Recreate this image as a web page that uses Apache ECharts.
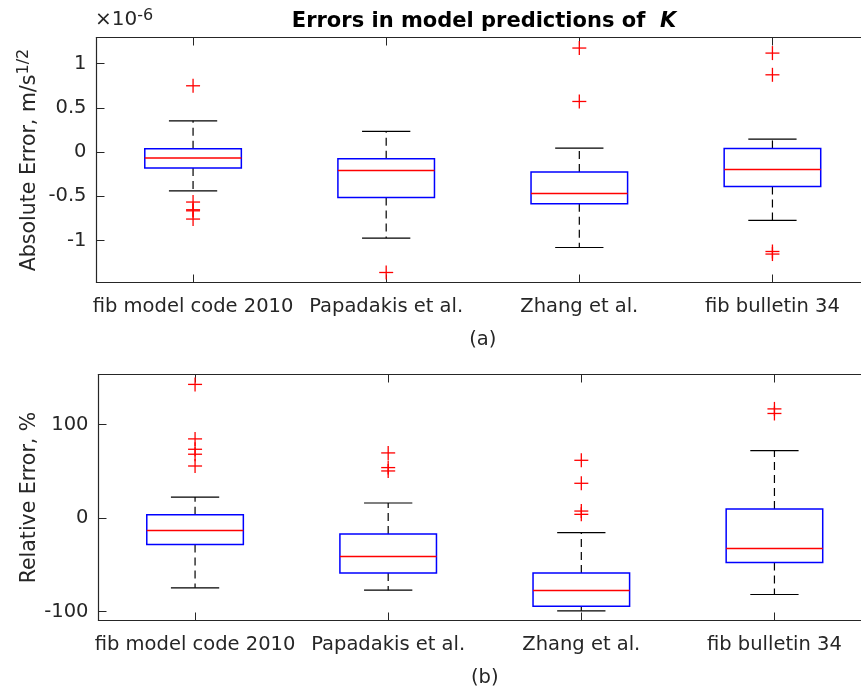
<!DOCTYPE html>
<html>
<head>
<meta charset="utf-8">
<script src="https://cdn.jsdelivr.net/npm/echarts@6.0.0/dist/echarts.min.js"></script>
<style>
  html, body { margin: 0; padding: 0; background: #fff; overflow: hidden; }
  /* the plot boxes run slightly past the right edge of the window */
  #chart { width: 880px; height: 692px; }
</style>
</head>
<body>
<div id="chart"></div>
<script>
// Model names shared by both panels
const categories = ['fib model code 2010', 'Papadakis et al.', 'Zhang et al.', 'fib bulletin 34'];

// Absolute error (units of 1e-6 m/s^1/2): [lower whisker, Q1, median, Q3, upper whisker]
const absBoxStats = [
  [-0.437, -0.181, -0.068, 0.037, 0.353],
  [-0.971, -0.512, -0.208, -0.076, 0.233],
  [-1.077, -0.584, -0.467, -0.226, 0.045],
  [-0.772, -0.388, -0.196, 0.041, 0.147]
];
// Absolute error outliers: [model index, value]
const absOutliers = [
  [0, 0.748], [0, -0.564], [0, -0.651], [0, -0.663], [0, -0.756],
  [1, -1.359],
  [2, 1.174], [2, 0.571],
  [3, 1.117], [3, 0.872], [3, -1.122], [3, -1.151]
];

// Relative error (%): [lower whisker, Q1, median, Q3, upper whisker]
const relBoxStats = [
  [-74.6, -28.2, -13.2, 3.6, 22.5],
  [-77.2, -58.9, -41.0, -17.1, 16.1],
  [-99.2, -94.3, -77.5, -58.9, -15.6],
  [-81.8, -47.5, -32.5, 9.6, 72.2]
];
// Relative error outliers: [model index, value]
const relOutliers = [
  [0, 143.0], [0, 84.7], [0, 73.6], [0, 68.3], [0, 55.7],
  [1, 69.7], [1, 54.0], [1, 50.4],
  [2, 61.8], [2, 37.2], [2, 7.5], [2, 4.0],
  [3, 116.8], [3, 111.9]
];

// Axis limits and tick labels
const absRange = [-1.472, 1.293];
const absTicks = [-1, -0.5, 0, 0.5, 1];
const relRange = [-109.6, 153.6];
const relTicks = [-100, 0, 100];

const AXIS = '#262626';
const FONT = '"DejaVu Sans", "Liberation Sans", Arial, sans-serif';
const FS = 19.5;

function renderBox(params, api) {
  const i = api.value(0);
  const band = api.size([1, 0])[0];
  const boxHalf = band * 0.25;
  const capHalf = band * 0.125;
  const pLow = api.coord([i, api.value(1)]);
  const pQ1 = api.coord([i, api.value(2)]);
  const pMed = api.coord([i, api.value(3)]);
  const pQ3 = api.coord([i, api.value(4)]);
  const pHigh = api.coord([i, api.value(5)]);
  const cx = pMed[0];
  const whisker = { stroke: '#000', lineWidth: 1.2, lineDash: [8, 5] };
  const cap = { stroke: '#000', lineWidth: 1.2 };
  return {
    type: 'group',
    children: [
      { type: 'line', shape: { x1: cx, y1: pQ3[1], x2: cx, y2: pHigh[1] }, style: whisker },
      { type: 'line', shape: { x1: cx, y1: pQ1[1], x2: cx, y2: pLow[1] }, style: whisker },
      { type: 'line', shape: { x1: cx - capHalf, y1: pHigh[1], x2: cx + capHalf, y2: pHigh[1] }, style: cap },
      { type: 'line', shape: { x1: cx - capHalf, y1: pLow[1], x2: cx + capHalf, y2: pLow[1] }, style: cap },
      { type: 'rect', shape: { x: cx - boxHalf, y: pQ3[1], width: boxHalf * 2, height: pQ1[1] - pQ3[1] },
        style: { fill: 'none', stroke: '#0000ff', lineWidth: 1.5 } },
      { type: 'line', shape: { x1: cx - boxHalf, y1: pMed[1], x2: cx + boxHalf, y2: pMed[1] },
        style: { stroke: '#ff0000', lineWidth: 1.5 } }
    ]
  };
}

function renderPlus(params, api) {
  const p = api.coord([api.value(0), api.value(1)]);
  const h = 7;
  const st = { stroke: '#ff0000', lineWidth: 1.3 };
  return {
    type: 'group',
    children: [
      { type: 'line', shape: { x1: p[0] - h, y1: p[1], x2: p[0] + h, y2: p[1] }, style: st },
      { type: 'line', shape: { x1: p[0], y1: p[1] - h, x2: p[0], y2: p[1] + h }, style: st }
    ]
  };
}

function catAxis(gridIndex, position, name) {
  return {
    type: 'category', gridIndex, position, data: categories, boundaryGap: true,
    name: name, nameLocation: 'middle', nameGap: 47,
    nameTextStyle: { color: AXIS, fontSize: FS, fontFamily: FONT },
    axisLine: { show: true, onZero: false, lineStyle: { color: AXIS, width: 1.2 } },
    axisTick: { show: true, inside: true, alignWithLabel: true, length: 8, lineStyle: { color: AXIS } },
    axisLabel: { show: position === 'bottom', color: AXIS, fontSize: FS, fontFamily: FONT, margin: 14, interval: 0 },
    splitLine: { show: false }
  };
}

function valAxis(gridIndex, position, range, ticks, name, gap) {
  return {
    type: 'value', gridIndex, position, min: range[0], max: range[1],
    name: name, nameLocation: 'middle', nameGap: gap, nameRotate: 90, nameMoveOverlap: false,
    nameTextStyle: {
      color: AXIS, fontSize: 20.5, fontFamily: FONT,
      rich: { sup: { fontSize: 16, verticalAlign: 'top', padding: [0, 0, 12, 0], color: AXIS, fontFamily: FONT } }
    },
    axisLine: { show: true, onZero: false, lineStyle: { color: AXIS, width: 1.2 } },
    axisTick: { show: true, inside: true, length: 8, customValues: ticks, lineStyle: { color: AXIS } },
    axisLabel: { show: position === 'left', customValues: ticks, color: AXIS, fontSize: FS, fontFamily: FONT, margin: 10 },
    splitLine: { show: false }
  };
}

const chart = echarts.init(document.getElementById('chart'), null, { renderer: 'canvas' });

chart.setOption({
  backgroundColor: '#ffffff',
  animation: false,
  title: {
    text: 'Errors in model predictions of  {k|K}',
    left: 479, top: 6, textAlign: 'center',
    textStyle: {
      color: '#000', fontSize: 21, fontWeight: 'bold', fontFamily: FONT,
      rich: { k: { fontSize: 21, fontWeight: 'bold', fontStyle: 'italic', color: '#000', fontFamily: FONT } }
    }
  },
  graphic: [{
    type: 'text', left: 95, top: 8,
    style: {
      text: '×10{e|-6}', fill: AXIS, font: '20px ' + FONT,
      rich: { e: { fontSize: 16, verticalAlign: 'top', padding: [0, 0, 8, 0], fill: AXIS, fontFamily: FONT } }
    }
  }],
  grid: [
    { left: 96.5, width: 772.5, top: 37.5, height: 245 },
    { left: 98.5, width: 772.5, top: 374.5, height: 246 }
  ],
  xAxis: [
    catAxis(0, 'bottom', '(a)'),
    catAxis(0, 'top', ''),
    catAxis(1, 'bottom', '(b)'),
    catAxis(1, 'top', '')
  ],
  yAxis: [
    valAxis(0, 'left', absRange, absTicks, 'Absolute Error, m/s{sup|1/2}', 53),
    valAxis(0, 'right', absRange, absTicks, '', 0),
    valAxis(1, 'left', relRange, relTicks, 'Relative Error, %', 58),
    valAxis(1, 'right', relRange, relTicks, '', 0)
  ],
  series: [
    {
      type: 'custom', xAxisIndex: 0, yAxisIndex: 0, renderItem: renderBox,
      encode: { x: 0, y: [1, 2, 3, 4, 5] },
      data: absBoxStats.map((s, i) => [i].concat(s))
    },
    {
      type: 'custom', xAxisIndex: 0, yAxisIndex: 0, renderItem: renderPlus,
      encode: { x: 0, y: 1 }, data: absOutliers
    },
    {
      type: 'custom', xAxisIndex: 2, yAxisIndex: 2, renderItem: renderBox,
      encode: { x: 0, y: [1, 2, 3, 4, 5] },
      data: relBoxStats.map((s, i) => [i].concat(s))
    },
    {
      type: 'custom', xAxisIndex: 2, yAxisIndex: 2, renderItem: renderPlus,
      encode: { x: 0, y: 1 }, data: relOutliers
    }
  ]
});
</script>
</body>
</html>
